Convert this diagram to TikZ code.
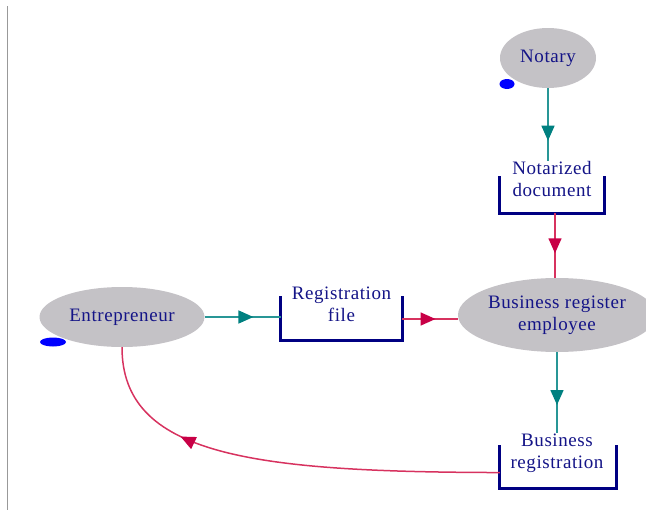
\documentclass[tikz,border=0pt]{standalone}
\usepackage{fontspec}
\setmainfont{Liberation Serif}[LetterSpace=3]
\usetikzlibrary{shapes.geometric,arrows.meta,decorations.markings}
\definecolor{ovalgray}{RGB}{196,194,198}
\definecolor{navytxt}{RGB}{20,20,135}
\definecolor{navyline}{RGB}{0,0,130}
\definecolor{tealline}{RGB}{40,150,150}
\definecolor{tealhead}{RGB}{0,128,128}
\definecolor{crimline}{RGB}{215,50,95}
\definecolor{crimhead}{RGB}{200,0,70}
\definecolor{dotblue}{RGB}{0,0,255}
\tikzset{
  oval/.style={ellipse, fill=ovalgray, draw=none, inner sep=0pt, text=navytxt, align=center, font=\fontsize{19}{22}\selectfont},
  txt/.style={text=navytxt, align=center, inner sep=0pt, font=\fontsize{19}{22}\selectfont},
  boxarea/.style={rectangle, draw=none, inner sep=0pt},
  bracket/.style={draw=navyline, line width=3pt, line cap=rect},
  dot/.style={ellipse, fill=dotblue, inner sep=0pt},
  tealarrow/.style={draw=tealline, line width=1.5pt, postaction={decorate},
    decoration={markings, mark=at position #1 with {\arrow[tealhead]{Triangle[length=15pt,width=13pt]}}}},
  crimarrow/.style={draw=crimline, line width=1.5pt, postaction={decorate},
    decoration={markings, mark=at position #1 with {\arrow[crimhead]{Triangle[length=15pt,width=13pt]}}}},
}
\begin{document}
\begin{tikzpicture}[x=1pt,y=-1pt]
\useasboundingbox (0,0) rectangle (646,517);
\draw[gray!80, line width=1pt] (7,6) -- (7,510);

% ovals
\node[oval, minimum width=96pt, minimum height=60pt] (notary) at (548,58) {Notary};
\node[dot, minimum width=15pt, minimum height=10pt] (notarydot) at (507,84) {};
\node[oval, minimum width=165pt, minimum height=60pt] (entre) at (122,317) {Entrepreneur};
\node[dot, minimum width=26pt, minimum height=9pt] (entredot) at (53,342) {};
\node[oval, minimum width=198pt, minimum height=74pt] (bre) at (557,315) {Business register\\employee};

% boxes (bracket areas)
\node[boxarea, minimum width=104pt, minimum height=35pt] (nd) at (552,195.5) {};
\node[txt] (ndt) at (552,179) {Notarized\\document};
\draw[bracket] (nd.north west) -- (nd.south west) -- (nd.south east) -- (nd.north east);

\node[boxarea, minimum width=121pt, minimum height=42pt] (rf) at (341.5,319) {};
\node[txt] (rft) at (341.5,304) {Registration\\file};
\draw[bracket] (rf.north west) -- (rf.south west) -- (rf.south east) -- (rf.north east);

\node[boxarea, minimum width=116pt, minimum height=41pt] (br) at (558,467.5) {};
\node[txt] (brt) at (557,453) {Business\\registration};
\draw[bracket] (br.north west) -- (br.south west) -- (br.south east) -- (br.north east);

% connectors
\draw[tealarrow=0.72] (notary.south) -- (notary.south |- ndt.north);
\draw[crimarrow=0.62] ([xshift=3pt]nd.south) -- ([xshift=3pt]nd.south |- bre.north);
\draw[tealarrow=0.64] (entre.east) -- (entre.east -| rf.west);
\draw[crimarrow=0.6] (rf.east) -- (rf.east -| bre.west);
\draw[tealarrow=0.65] (bre.south) -- (bre.south |- brt.north);
\draw[crimarrow=0.74] (br.west |- brt.south) .. controls (250,472) and (122,455) .. (entre.south);
\end{tikzpicture}
\end{document}
